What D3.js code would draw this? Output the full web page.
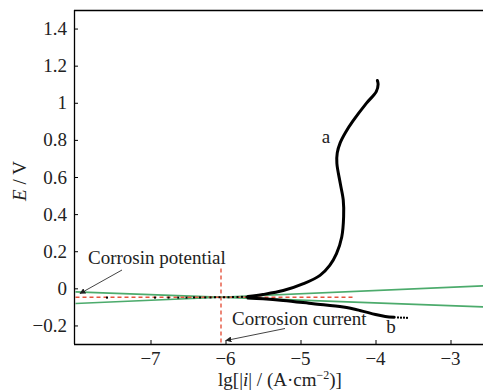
<!DOCTYPE html>
<html>
<head>
<meta charset="utf-8">
<script src="https://cdn.jsdelivr.net/npm/d3@7"></script>
<style>
  html, body { margin: 0; padding: 0; background: #fff; }
  svg { display: block; font-family: "Liberation Serif", serif; }
</style>
</head>
<body>
<svg id="chart" width="483" height="390"></svg>
<script>
// Polarization curve: anodic branch (a), cathodic branch (b), Tafel fits
const xTicks = [-7, -6, -5, -4, -3];
const yTicks = [-0.2, 0, 0.2, 0.4, 0.6, 0.8, 1, 1.2, 1.4];
const fmt = v => (v < 0 ? "\u2212" : "") + String(Math.abs(v));

// anodic branch a: [lg|i|, E]
const anodicX = [-5.70, -5.50, -5.23, -4.96, -4.74, -4.61, -4.52, -4.45, -4.425, -4.43, -4.47, -4.515, -4.51, -4.47, -4.40, -4.30, -4.12, -3.99, -3.965, -3.975];
const anodicE = [-0.044, -0.033, -0.012, 0.025, 0.070, 0.124, 0.187, 0.277, 0.386, 0.476, 0.566, 0.674, 0.730, 0.785, 0.840, 0.902, 0.998, 1.060, 1.100, 1.120];

// cathodic branch b
const cathodicX = [-5.70, -5.50, -5.23, -4.83, -4.43, -4.21, -4.00, -3.87, -3.75];
const cathodicE = [-0.052, -0.056, -0.065, -0.083, -0.101, -0.119, -0.141, -0.152, -0.156];

// sparse scan points near the corrosion potential and at the cathodic end
const scanX = [-7.58, -6.94, -6.76, -6.63, -6.52, -6.42, -6.34, -6.27, -6.20, -6.14, -6.08, -6.02, -5.96, -5.90, -5.84, -5.78, -5.72, -3.70, -3.66, -3.62, -3.58];
const scanE = [-0.050, -0.050, -0.050, -0.050, -0.050, -0.049, -0.049, -0.049, -0.049, -0.048, -0.048, -0.048, -0.048, -0.047, -0.047, -0.046, -0.046, -0.157, -0.158, -0.158, -0.159];

// Tafel lines crossing at the corrosion point
const corrX = -6.06, corrE = -0.048;
const tafelAnodic = [[-8, -0.082], [-2.5, 0.0145]];
const tafelCathodic = [[-8, -0.019], [-2.5, -0.101]];
const corrLineEnd = -4.28;

const svg = d3.select("#chart");
const margin = { left: 74, top: 10, bottom: 344 };
const x = d3.scaleLinear().domain([-8, -2.5]).range([75.5, 488]);
const y = d3.scaleLinear().domain([-0.3, 1.5]).range([margin.bottom, margin.top]);

const defs = svg.append("defs");
defs.append("marker").attr("id", "arr").attr("viewBox", "0 0 10 10")
  .attr("refX", 9).attr("refY", 5).attr("markerWidth", 6).attr("markerHeight", 6)
  .attr("markerUnits", "userSpaceOnUse").attr("orient", "auto")
  .append("path").attr("d", "M0,0 L10,5 L0,10 z").attr("fill", "#222");
defs.append("clipPath").attr("id", "plotclip").append("rect")
  .attr("x", margin.left).attr("y", margin.top)
  .attr("width", 483 - margin.left).attr("height", margin.bottom - margin.top);

const plot = svg.append("g").attr("clip-path", "url(#plotclip)");

// Tafel fit lines
const line = d3.line().x(d => x(d[0])).y(d => y(d[1]));
[tafelAnodic, tafelCathodic].forEach(seg => {
  plot.append("path").attr("d", line(seg)).attr("fill", "none")
    .attr("stroke", "#4cab6c").attr("stroke-width", 1.6);
});

// corrosion potential / current guides
plot.append("line").attr("x1", x(-8)).attr("x2", x(corrLineEnd))
  .attr("y1", y(corrE)).attr("y2", y(corrE))
  .attr("stroke", "#e5553f").attr("stroke-width", 1.4).attr("stroke-dasharray", "4,3");
plot.append("line").attr("x1", x(corrX)).attr("x2", x(corrX))
  .attr("y1", y(0.107)).attr("y2", y(-0.3))
  .attr("stroke", "#e5553f").attr("stroke-width", 1.4).attr("stroke-dasharray", "4,3");

// polarization branches
const curve = d3.line().x(d => x(d[0])).y(d => y(d[1])).curve(d3.curveCatmullRom.alpha(0.5));
plot.append("path").attr("d", curve(anodicX.map((v, i) => [v, anodicE[i]])))
  .attr("fill", "none").attr("stroke", "#000").attr("stroke-width", 3).attr("stroke-linecap", "round");
plot.append("path").attr("d", curve(cathodicX.map((v, i) => [v, cathodicE[i]])))
  .attr("fill", "none").attr("stroke", "#000").attr("stroke-width", 3).attr("stroke-linecap", "round");
plot.selectAll("rect.pt").data(scanX.map((v, i) => [v, scanE[i]])).enter()
  .append("rect").attr("class", "pt")
  .attr("x", d => x(d[0]) - 1).attr("y", d => y(d[1]) - 1)
  .attr("width", 2).attr("height", 2).attr("fill", "#000");

// axes: lines and inward ticks from d3-axis, labels set as plain serif text
const gx = svg.append("g").attr("transform", `translate(0,${margin.bottom})`)
  .call(d3.axisBottom(x).tickValues(xTicks).tickSizeInner(-4).tickSizeOuter(0).tickFormat(""));
gx.select(".domain").attr("d", `M${margin.left},0.5H483`).attr("stroke", "#000").attr("stroke-width", 1.3);
gx.selectAll(".tick text").remove();

const gy = svg.append("g").attr("transform", `translate(${margin.left},0)`)
  .call(d3.axisLeft(y).tickValues(yTicks).tickSizeInner(-4).tickSizeOuter(0).tickFormat(""));
gy.select(".domain").attr("d", `M0.5,${margin.top}V${margin.bottom}`).attr("stroke", "#000").attr("stroke-width", 1.3);
gy.selectAll(".tick text").remove();

svg.append("g").selectAll("text").data(xTicks).enter().append("text")
  .attr("x", d => x(d)).attr("y", margin.bottom + 21)
  .attr("text-anchor", "middle").attr("font-size", 19).attr("fill", "#222")
  .text(fmt);
svg.append("g").selectAll("text").data(yTicks).enter().append("text")
  .attr("x", margin.left - 7).attr("y", d => y(d) + 6.5)
  .attr("text-anchor", "end").attr("font-size", 19).attr("fill", "#222")
  .text(fmt);

// top frame
svg.append("line").attr("x1", margin.left).attr("x2", 483)
  .attr("y1", margin.top + 0.5).attr("y2", margin.top + 0.5)
  .attr("stroke", "#000").attr("stroke-width", 1.3);

// axis titles
const xt = svg.append("text").attr("x", 280).attr("y", 386).attr("text-anchor", "middle")
  .attr("font-size", 19).attr("fill", "#222");
xt.append("tspan").text("lg[|");
xt.append("tspan").attr("font-style", "italic").text("i");
xt.append("tspan").text("| / (A\u00B7cm");
xt.append("tspan").attr("font-size", 12).attr("dy", -7).text("\u22122");
xt.append("tspan").attr("dy", 7).text(")]");

const yt = svg.append("text").attr("transform", "translate(26,181) rotate(-90)")
  .attr("text-anchor", "middle").attr("font-size", 19).attr("fill", "#222");
yt.append("tspan").attr("font-style", "italic").text("E");
yt.append("tspan").text(" / V");

// annotations
svg.append("text").attr("x", 88).attr("y", 264).attr("font-size", 19).attr("fill", "#222")
  .text("Corrosin potential");
svg.append("line").attr("x1", 122).attr("y1", 270).attr("x2", 80).attr("y2", 293.5)
  .attr("stroke", "#444").attr("stroke-width", 1).attr("marker-end", "url(#arr)");

svg.append("text").attr("x", 232).attr("y", 325).attr("font-size", 19).attr("fill", "#222")
  .text("Corrosion current");
svg.append("line").attr("x1", 285).attr("y1", 328.5).attr("x2", 226).attr("y2", 340.5)
  .attr("stroke", "#444").attr("stroke-width", 1).attr("marker-end", "url(#arr)");

svg.append("text").attr("x", 326).attr("y", 143).attr("text-anchor", "middle")
  .attr("font-size", 19).attr("fill", "#222").text("a");
svg.append("text").attr("x", 391).attr("y", 333).attr("text-anchor", "middle")
  .attr("font-size", 19).attr("fill", "#222").text("b");
</script>
</body>
</html>
